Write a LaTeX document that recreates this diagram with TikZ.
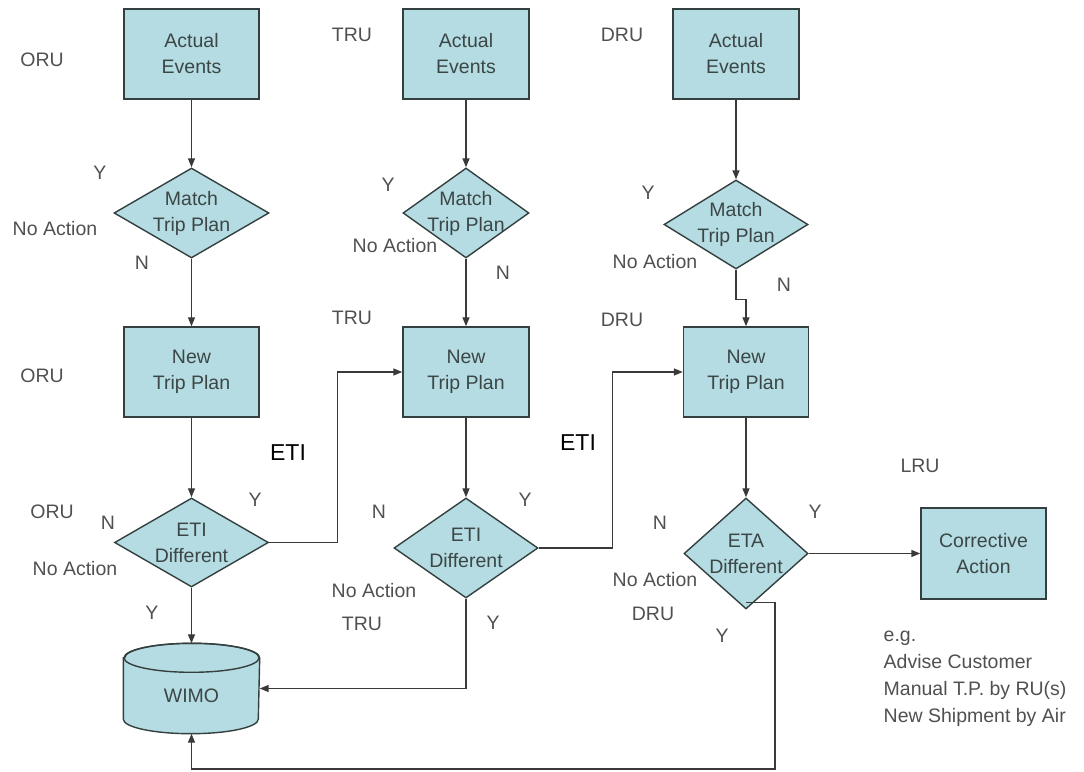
\documentclass[tikz,border=0pt]{standalone}
\usepackage{fontspec}
\setmainfont{Liberation Sans}
\usetikzlibrary{arrows.meta, shapes.geometric}
\definecolor{boxfill}{HTML}{B4DCE2}
\definecolor{boxline}{HTML}{34403F}
\definecolor{flowline}{HTML}{3A3A3A}
\definecolor{lblgray}{HTML}{505050}
\definecolor{txtgray}{HTML}{3C4646}

\begin{document}
\begin{tikzpicture}[x=1pt, y=1pt, >={Triangle[length=9pt, width=7pt]}, line width=1.4pt,
  process/.style={rectangle, draw=boxline, fill=boxfill, line width=1.4pt, inner sep=0pt,
    minimum height=90pt, align=center, text=txtgray, font=\fontsize{19.5}{26}\selectfont},
  decision/.style={diamond, draw=boxline, fill=boxfill, line width=1.4pt, inner sep=0pt},
  dtext/.style={align=center, text=txtgray, font=\fontsize{19.5}{26}\selectfont},
  lbl/.style={text=lblgray, font=\fontsize{19.5}{24}\selectfont},
  etilbl/.style={text=black, font=\fontsize{23}{27}\selectfont},
  flow/.style={->, draw=flowline, line width=1.4pt}]

% Page frame (1 unit = 1 px of the 1084 x 771 sheet, y measured upwards)
\useasboundingbox (0,0) rectangle (1084,771);

% Column centres: ORU x=191.5, TRU x=466, DRU x=736/746, LRU x=983.5
% Rows: events y=717, match y=558, new plan y=399, decision y=223, WIMO y=82.5

% Actual events
\node[process, minimum width=135pt] (act1) at (191.5,717) {Actual\\Events};
\node[process, minimum width=126pt] (act2) at (466,717) {Actual\\Events};
\node[process, minimum width=126pt] (act3) at (736,717) {Actual\\Events};

% Match trip plan
\node[decision, minimum width=155pt, minimum height=90pt] (match1) at (191.5,558) {};
\node[decision, minimum width=126pt, minimum height=90pt] (match2) at (466,558) {};
\node[decision, minimum width=144pt, minimum height=89pt] (match3) at (736,546.5) {};
\node[dtext] (match1txt) at (match1) {Match\\Trip Plan};
\node[dtext] (match2txt) at (match2) {Match\\Trip Plan};
\node[dtext] (match3txt) at (match3) {Match\\Trip Plan};

% New trip plans
\node[process, minimum width=135pt] (plan1) at (191.5,399) {New\\Trip Plan};
\node[process, minimum width=126pt] (plan2) at (466,399) {New\\Trip Plan};
\node[process, minimum width=125pt] (plan3) at (746,399) {New\\Trip Plan};

% ETI / ETA checks
\node[decision, minimum width=154pt, minimum height=89pt] (eti1) at (191.5,228.5) {};
\node[decision, minimum width=144pt, minimum height=100pt] (eti2) at (466,223) {};
\node[decision, minimum width=124pt, minimum height=111pt] (eta) at (746,217.5) {};
\node[dtext] (eti1txt) at (eti1) {ETI\\Different};
\node[dtext] (eti2txt) at (eti2) {ETI\\Different};
\node[dtext] (etatxt) at (eta) {ETA\\Different};

\node[process, minimum width=125pt, minimum height=91pt] (fix) at (983.5,217.5) {Corrective\\Action};

% WIMO data store (cylinder drawn on an empty node)
\node[minimum width=135pt, minimum height=89pt, inner sep=0pt] (wimo) at (191.5,82.5) {};
\filldraw[fill=boxfill, draw=boxline, line width=1.4pt]
  ([yshift=-14.5pt]wimo.north west) -- ([yshift=14.5pt]wimo.south west)
  arc[start angle=180, end angle=360, x radius=67.5, y radius=14.5]
  -- ([yshift=-14.5pt]wimo.north east)
  arc[start angle=0, end angle=180, x radius=67.5, y radius=14.5] -- cycle;
\draw[boxline, line width=1.4pt] ([yshift=-14.5pt]wimo.north) ellipse[x radius=67.5, y radius=14.5];
\node[dtext] (wimotxt) at ([yshift=-7pt]wimo.center) {WIMO};

% Vertical flow
\draw[flow] (act1.south) -- (match1.north);
\draw[flow] (act2.south) -- (match2.north);
\draw[flow] (act3.south) -- (match3.north);
\draw[flow] (match1.south) -- (plan1.north);
\draw[flow] (match2.south) -- (plan2.north);
\draw[flow] (match3.south) -- ++(0,-30) -| (plan3.north);
\draw[flow] (plan1.south) -- (eti1.north);
\draw[flow] (plan2.south) -- (eti2.north);
\draw[flow] (plan3.south) -- (eta.north);

% ETI hand-over to the next RU
\draw[flow] (eti1.east) -- ++(68,0) |- (plan2.west);
\draw[flow] (eti2.east) -- ++(74,0) |- (plan3.west);
\draw[flow] (eta.east) -- (fix.west);

% Into WIMO
\draw[flow] (eti1.south) -- (wimo.north);
\draw[flow] (eti2.south) |- (wimo.east);
\coordinate (loopend) at (775,2);
\draw[flow] ([yshift=7pt]eta.south) -| (loopend) -| (wimo.south);

% RU names, Y/N and No Action labels
\foreach \x/\y/\t [count=\i] in {
  42/711/ORU, 352/736/TRU, 622/736/DRU,
  100/598/Y, 55/542/No Action, 142/508/N,
  388/586/Y, 395/525/No Action, 503/498/N,
  648/578/Y, 655/509/No Action, 784/486/N,
  42/395/ORU, 352/453/TRU, 622/451/DRU,
  52/259/ORU, 108/248/N, 255/271/Y, 75/202/No Action, 152/158/Y,
  379/259/N, 525/271/Y, 374/180/No Action, 362/147/TRU, 493/148/Y,
  660/248/N, 815/259/Y, 655/191/No Action, 653/157/DRU, 722/135/Y,
  920/305/LRU}
  \node[lbl] (lab\i) at (\x,\y) {\t};

\node[etilbl] (eti1lbl) at (288,318) {ETI};
\node[etilbl] (eti2lbl) at (578,328) {ETI};

\node[lbl, align=left, anchor=north west, inner sep=0pt, font=\fontsize{19.5}{27}\selectfont]
  (note) at (883,140.5) {e.g.\\Advise Customer\\Manual T.P. by RU(s)\\New Shipment by Air};

\end{tikzpicture}
\end{document}
